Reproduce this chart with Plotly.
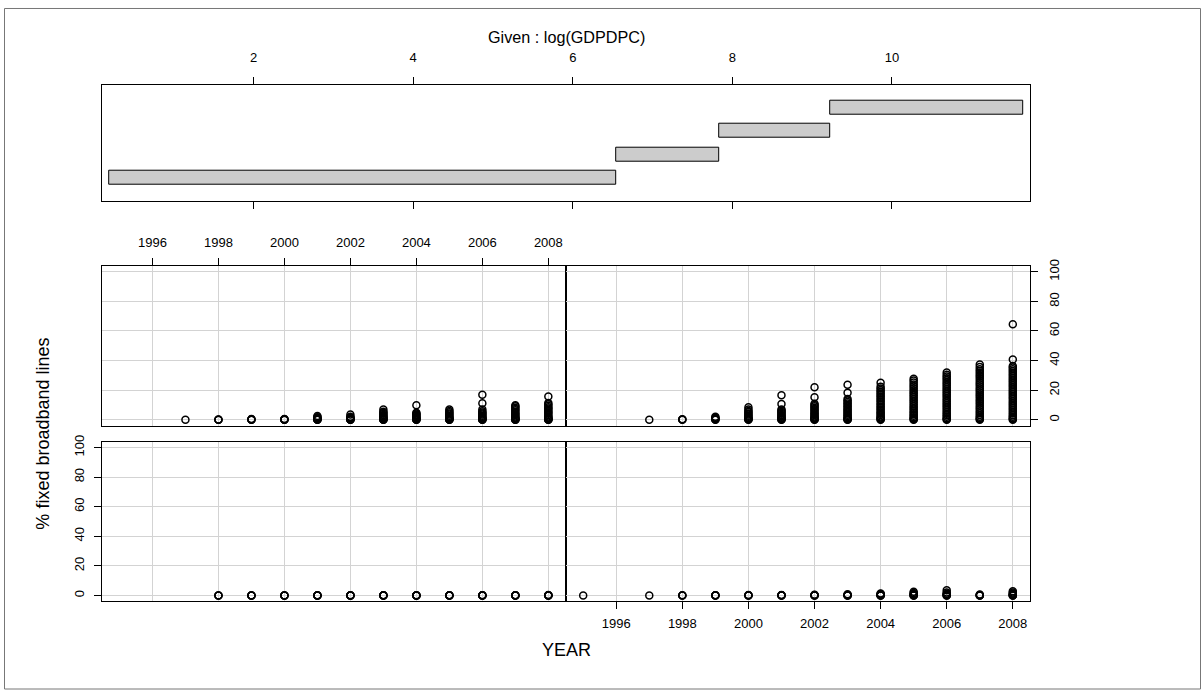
import plotly.graph_objects as go

# ---------------- data ----------------
# Given intervals of log(GDPDPC) (panel 1 = lowest ... panel 4 = highest)
GIVEN_LO = [0.19, 6.54, 7.83, 9.22]
GIVEN_HI = [6.54, 7.83, 9.22, 11.64]
GIVEN_TICKS = [2, 4, 6, 8, 10]

YEAR_TICKS = [1996, 1998, 2000, 2002, 2004, 2006, 2008]
PCT_TICKS = [0, 20, 40, 60, 80, 100]

# Panel 1 (bottom-left): lowest GDP interval
P1_YEARS = [1998, 1999, 2000, 2001, 2002, 2003, 2004, 2005, 2006, 2007, 2008]
P1_VALUES = [
    [0, 0, 0.02],
    [0, 0, 0.01, 0.05],
    [0, 0, 0.02, 0.06],
    [0, 0, 0.01, 0.04, 0.1],
    [0, 0, 0.02, 0.06, 0.12],
    [0, 0, 0.03, 0.08, 0.15],
    [0, 0, 0.02, 0.07, 0.14],
    [0, 0, 0.03, 0.09, 0.18],
    [0, 0, 0.04, 0.1, 0.2],
    [0, 0, 0.03, 0.08, 0.16],
    [0, 0, 0.05, 0.12, 0.25],
]

# Panel 2 (bottom-right)
P2_YEARS = [1995, 1997, 1998, 1999, 2000, 2001, 2002, 2003, 2004, 2005, 2006, 2007, 2008]
P2_VALUES = [
    [0],
    [0],
    [0, 0, 0.1],
    [0, 0, 0.1, 0.2],
    [0, 0, 0.1, 0.3],
    [0, 0, 0.1, 0.2, 0.4],
    [0, 0, 0.1, 0.3, 0.5],
    [0, 0, 0.2, 0.4, 0.8],
    [0, 0, 0.1, 0.3, 0.6, 1.0, 1.4],
    [0, 0, 0.2, 0.5, 1.0, 1.6, 2.5],
    [0, 0, 0.3, 0.6, 1.2, 2.0, 3.5],
    [0, 0, 0.2, 0.4, 0.7],
    [0, 0, 0.2, 0.5, 0.9, 1.4, 2.0, 2.8],
]

# Panel 3 (top-left)
P3_YEARS = [1997, 1998, 1999, 2000, 2001, 2002, 2003, 2004, 2005, 2006, 2007, 2008]
P3_VALUES = [
    [0],
    [0, 0.1, 0.2],
    [0, 0.1, 0.3, 0.5],
    [0, 0.1, 0.2, 0.4, 0.6],
    [0, 0.1, 0.3, 0.6, 0.9, 1.3, 1.8, 2.5],
    [0, 0.1, 0.2, 0.5, 0.8, 1.2, 1.6, 2.0, 3.6],
    [0, 0.1, 0.3, 0.6, 1.0, 1.5, 2.0, 2.6, 3.2, 4.0, 4.8, 5.5, 6.9],
    [0, 0.1, 0.3, 0.6, 1.0, 1.4, 1.9, 2.5, 3.0, 3.6, 4.2, 4.7, 9.9],
    [0, 0.1, 0.3, 0.6, 1.0, 1.5, 2.1, 2.8, 3.5, 4.3, 5.1, 6.0, 6.9],
    [0, 0.1, 0.3, 0.6, 1.0, 1.5, 2.1, 2.8, 3.5, 4.3, 5.0, 5.8, 6.9, 11.2, 16.9],
    [0, 0.1, 0.3, 0.6, 1.0, 1.6, 2.3, 3.0, 3.8, 4.6, 5.5, 6.4, 7.3, 8.2, 9.1, 9.9],
    [0, 0.1, 0.3, 0.6, 1.0, 1.6, 2.3, 3.1, 4.0, 4.9, 5.8, 6.7, 7.6, 8.5, 9.5, 10.5, 11.4, 15.8],
]

# Panel 4 (top-right): highest GDP interval
P4_YEARS = [1997, 1998, 1999, 2000, 2001, 2002, 2003, 2004, 2005, 2006, 2007, 2008]
P4_VALUES = [
    [0],
    [0, 0.2, 0.4],
    [0, 0.2, 0.5, 0.9, 1.4, 2.0],
    [0, 0.2, 0.5, 0.9, 1.4, 2.0, 2.7, 3.5, 4.3, 5.2, 6.0, 7.0, 8.5],
    [0, 0.2, 0.5, 0.9, 1.4, 2.0, 2.6, 3.3, 4.0, 4.8, 5.5, 6.2, 6.9, 10.6, 16.6],
    [0, 0.2, 0.5, 1.0, 1.6, 2.3, 3.0, 3.8, 4.6, 5.5, 6.4, 7.3, 8.2, 9.1, 10.0, 10.9, 15.3, 22.0],
    [0, 0.2, 0.6, 1.1, 1.8, 2.6, 3.4, 4.3, 5.2, 6.1, 7.0, 8.0, 9.0, 10.0, 11.0, 12.0,
     13.0, 14.1, 18.2, 23.7],
    [0, 0.3, 0.8, 1.5, 2.3, 3.2, 4.1, 5.0, 6.0, 7.0, 8.0, 9.0, 10.1, 11.2, 12.3, 13.4,
     14.5, 15.6, 16.7, 17.8, 18.9, 20.0, 21.2, 22.4, 25.0],
    [0, 0.4, 1.0, 1.8, 2.7, 3.7, 4.7, 5.8, 6.9, 8.0, 9.2, 10.4, 11.6, 12.8, 14.0, 15.2,
     16.4, 17.6, 18.8, 20.0, 21.3, 22.6, 23.9, 25.2, 26.5, 27.7],
    [0, 0.4, 1.1, 2.0, 3.0, 4.1, 5.2, 6.4, 7.6, 8.8, 10.0, 11.2, 12.4, 13.6, 14.8, 16.0,
     17.2, 18.4, 19.6, 20.8, 22.0, 23.2, 24.4, 25.6, 26.8, 28.0, 29.2, 30.5, 32.0],
    [0, 0.5, 1.2, 2.1, 3.2, 4.4, 5.6, 6.9, 8.2, 9.5, 10.8, 12.1, 13.4, 14.7, 16.0, 17.3,
     18.6, 19.9, 21.2, 22.5, 23.8, 25.1, 26.4, 27.7, 29.0, 30.3, 31.6, 32.9, 34.2, 35.6, 37.4],
    [0, 0.5, 1.2, 2.1, 3.1, 4.2, 5.4, 6.6, 7.8, 9.0, 10.2, 11.4, 12.6, 13.8, 15.0, 16.2,
     17.4, 18.6, 19.8, 21.0, 22.2, 23.4, 24.6, 25.8, 27.0, 28.2, 29.4, 30.6, 31.8, 33.0,
     34.2, 35.3, 36.4, 40.8, 64.5],
]

XLABEL = "YEAR"
YLABEL = "% fixed broadband lines"
GIVEN_TITLE = "Given : log(GDPDPC)"

# ---------------- layout geometry (pixels) ----------------
W, H = 1201, 690
FONT = "Liberation Sans, Arial, Helvetica, sans-serif"


def px(x):
    return x / W


def py(y):
    return 1 - y / H


COL_L = (102.3, 565.5)
COL_R = (566.0, 1030.0)
ROW_T = (261.5, 423.0)
ROW_B = (439.0, 600.5)
GIVEN_Y = (78.5, 195.5)

XR = [1994.48, 2008.52]
YR = [-4, 104]

fig = go.Figure()

marker = dict(symbol="circle-open", size=7, color="black", line=dict(width=1.5))


def flat(years, values):
    xs, ys = [], []
    for yr, vals in zip(years, values):
        for v in vals:
            xs.append(yr)
            ys.append(v)
    return xs, ys


for i, (yrs, vals) in enumerate([(P1_YEARS, P1_VALUES), (P2_YEARS, P2_VALUES),
                                 (P3_YEARS, P3_VALUES), (P4_YEARS, P4_VALUES)]):
    xs, ys = flat(yrs, vals)
    sfx = "" if i == 0 else str(i + 1)
    fig.add_trace(go.Scatter(x=xs, y=ys, mode="markers", marker=marker,
                             xaxis="x" + sfx, yaxis="y" + sfx, showlegend=False,
                             hoverinfo="x+y"))

# Given panel bars
fig.add_trace(go.Bar(
    y=[1, 2, 3, 4], x=[h - l for l, h in zip(GIVEN_LO, GIVEN_HI)], base=GIVEN_LO,
    orientation="h", width=0.6,
    marker=dict(color="#CCCCCC", line=dict(color="black", width=1)),
    xaxis="x5", yaxis="y5", showlegend=False, hoverinfo="skip"))

tickfont = dict(family=FONT, size=13, color="black")
grid = dict(showgrid=True, gridcolor="#D3D3D3", gridwidth=1, zeroline=False,
            showline=True, linecolor="black", linewidth=1, mirror=True)


def xax(dom, side, labels, anchor, standoff=5):
    d = dict(domain=[px(dom[0]), px(dom[1])], range=XR, tickvals=YEAR_TICKS,
             side=side, anchor=anchor, tickfont=tickfont, **grid)
    if labels:
        d.update(ticks="outside", ticklen=7, tickcolor="black", tickwidth=1,
                 showticklabels=True, ticklabelstandoff=standoff)
    else:
        d.update(ticks="", showticklabels=False)
    return d


def yax(dom, side, labels, anchor, standoff=5):
    d = dict(domain=[py(dom[1]), py(dom[0])], range=YR, tickvals=PCT_TICKS,
             side=side, anchor=anchor, tickfont=tickfont, tickangle=-90, **grid)
    if labels:
        d.update(ticks="outside", ticklen=7, tickcolor="black", tickwidth=1,
                 showticklabels=True, ticklabelstandoff=standoff)
    else:
        d.update(ticks="", showticklabels=False)
    return d


fig.update_layout(
    width=W, height=H,
    margin=dict(l=0, r=0, t=0, b=0),
    paper_bgcolor="white", plot_bgcolor="white",
    font=dict(family=FONT, color="black"),
    bargap=0,
    xaxis=xax(COL_L, "bottom", False, "y"),
    yaxis=yax(ROW_B, "left", True, "x"),
    xaxis2=xax(COL_R, "bottom", True, "y2", standoff=3),
    yaxis2=yax(ROW_B, "left", False, "x2"),
    xaxis3=xax(COL_L, "top", True, "y3", standoff=6),
    yaxis3=yax(ROW_T, "left", False, "x3"),
    xaxis4=xax(COL_R, "bottom", False, "y4"),
    yaxis4=yax(ROW_T, "right", True, "x4"),
    xaxis5=dict(domain=[px(102.2), px(1029.8)], range=[0.103, 11.727],
                tickvals=GIVEN_TICKS, side="top", anchor="y5",
                ticks="outside", ticklen=7, tickcolor="black", tickwidth=1,
                ticklabelstandoff=10,
                tickfont=tickfont, showgrid=False, zeroline=False,
                showline=True, linecolor="black", linewidth=1, mirror="ticks"),
    yaxis5=dict(domain=[py(GIVEN_Y[1]), py(GIVEN_Y[0])], range=[0.035, 4.965],
                anchor="x5", showticklabels=False, ticks="", showgrid=False,
                zeroline=False, showline=True, linecolor="black", linewidth=1,
                mirror=True),
    annotations=[
        dict(text=GIVEN_TITLE, xref="paper", yref="paper", x=px(566), y=py(30),
             showarrow=False, font=dict(family=FONT, size=16.2, color="black"),
             xanchor="center", yanchor="middle"),
        dict(text=XLABEL, xref="paper", yref="paper", x=px(566), y=py(650),
             showarrow=False, font=dict(family=FONT, size=18, color="black"),
             xanchor="center", yanchor="middle"),
        dict(text=YLABEL, xref="paper", yref="paper", x=px(43), y=py(431),
             showarrow=False, textangle=-90,
             font=dict(family=FONT, size=18, color="black"),
             xanchor="center", yanchor="middle"),
    ],
    shapes=[
        dict(type="rect", xref="paper", yref="paper", x0=px(4.5), x1=px(1200.5),
             y0=py(689), y1=py(1.5), line=dict(color="#777777", width=1),
             fillcolor="rgba(0,0,0,0)", layer="above"),
    ],
)

fig.write_html(
    "out.html",
    config={"displayModeBar": False},
    post_script="document.body.style.margin='0px';document.body.style.overflow='hidden';",
)
